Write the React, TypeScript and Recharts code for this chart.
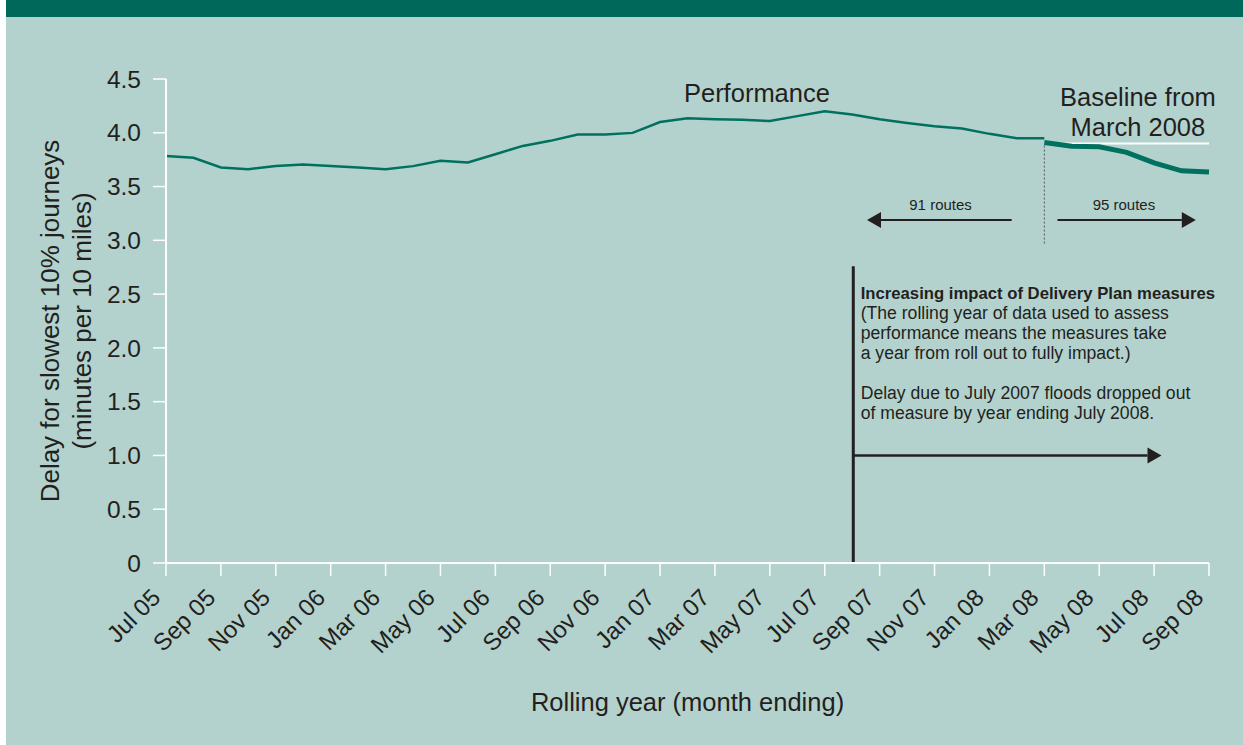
import React from "react";
import { LineChart, Line, XAxis, YAxis, ReferenceLine, ReferenceDot } from "recharts";

const months = [
  "Jul 05", "Aug 05", "Sep 05", "Oct 05", "Nov 05", "Dec 05",
  "Jan 06", "Feb 06", "Mar 06", "Apr 06", "May 06", "Jun 06", "Jul 06", "Aug 06", "Sep 06", "Oct 06", "Nov 06", "Dec 06",
  "Jan 07", "Feb 07", "Mar 07", "Apr 07", "May 07", "Jun 07", "Jul 07", "Aug 07", "Sep 07", "Oct 07", "Nov 07", "Dec 07",
  "Jan 08", "Feb 08", "Mar 08", "Apr 08", "May 08", "Jun 08", "Jul 08", "Aug 08", "Sep 08",
];

// Jul 05 .. Mar 08
const performance = [
  3.785, 3.767, 3.677, 3.662, 3.69, 3.705, 3.692, 3.677, 3.662, 3.69, 3.739, 3.724,
  3.8, 3.878, 3.925, 3.984, 3.984, 3.999, 4.1, 4.135, 4.125, 4.12, 4.11, 4.155,
  4.2, 4.17, 4.125, 4.09, 4.06, 4.04, 3.99, 3.95, 3.95,
];

// Mar 08 .. Sep 08 (95 routes)
const baselineMonths = ["Mar 08", "Apr 08", "May 08", "Jun 08", "Jul 08", "Aug 08", "Sep 08"];
const baselineValues = [3.91, 3.875, 3.87, 3.818, 3.72, 3.646, 3.636];
const baselineLevel = 3.9;

const yTicks = [0, 0.5, 1, 1.5, 2, 2.5, 3, 3.5, 4, 4.5];
const xTicks = months.map((_, i) => i).filter((i) => i % 2 === 0);

const noteLines = [
  "(The rolling year of data used to assess",
  "performance means the measures take",
  "a year from roll out to fully impact.)",
  "",
  "Delay due to July 2007 floods dropped out",
  "of measure by year ending July 2008.",
];

const data = months.map((m, i) => {
  const b = baselineMonths.indexOf(m);
  return {
    i,
    month: m,
    perf: i < performance.length ? performance[i] : null,
    base: b >= 0 ? baselineValues[b] : null,
    level: b >= 0 ? baselineLevel : null,
  };
});

const BG = "#b3d2cd";
const TEAL = "#00705f";
const INK = "#231f20";
const FONT = "'Liberation Sans', Arial, Helvetica, sans-serif";

const XTick = (props: any) => {
  const { x, y, payload } = props;
  const ax = x - 4;
  const ay = y + 21;
  return (
    <text x={ax} y={ay} textAnchor="end" fontSize={24} fill={INK} fontFamily={FONT} transform={`rotate(-45, ${ax}, ${ay})`}>
      {months[payload.value]}
    </text>
  );
};

const arrow = (width: number, headLen: number, headHalf: number) => (p: any) => {
  const { x1, y1, x2, y2 } = p;
  const dx = x2 - x1;
  const dy = y2 - y1;
  const len = Math.sqrt(dx * dx + dy * dy) || 1;
  const ux = dx / len;
  const uy = dy / len;
  const bx = x2 - ux * headLen;
  const by = y2 - uy * headLen;
  const px = -uy * headHalf;
  const py = ux * headHalf;
  return (
    <g>
      <line x1={x1} y1={y1} x2={bx} y2={by} stroke={INK} strokeWidth={width} />
      <polygon points={`${x2},${y2} ${bx + px},${by + py} ${bx - px},${by - py}`} fill={INK} />
    </g>
  );
};

const textAt = (txt: string, size: number, weight = "normal") => (p: any) => (
  <text x={p.cx} y={p.cy} textAnchor="middle" dominantBaseline="central" fontSize={size} fontWeight={weight} fill={INK} fontFamily={FONT}>
    {txt}
  </text>
);

const noteBlock = (p: any) => (
  <g fontFamily={FONT} fill={INK} fontSize={17.6}>
    <text x={p.cx} y={p.cy} dominantBaseline="central" fontWeight="bold" fontSize={16.7}>
      Increasing impact of Delivery Plan measures
    </text>
    {noteLines.map((l, k) => (
      <text key={k} x={p.cx} y={p.cy + 20 * (k + 1)} dominantBaseline="central">
        {l}
      </text>
    ))}
  </g>
);

export default function App() {
  return (
    <div style={{ position: "absolute", left: 0, top: 0, width: 1243, height: 745, background: "#fff" }}>
      <div style={{ position: "absolute", left: 6, top: 0, width: 1237, height: 745, background: BG }}>
        <div style={{ height: 17, background: "#00685b" }} />
        <div style={{ position: "absolute", left: 0, top: 0 }}>
          <LineChart width={1237} height={745} data={data} margin={{ top: 79, right: 34, bottom: 0, left: 0 }}>
            <XAxis
              dataKey="i"
              type="number"
              domain={[0, 38]}
              ticks={xTicks}
              interval={0}
              height={182}
              stroke="#fff"
              strokeWidth={2}
              tickSize={13}
              tickLine={{ stroke: "#fff", strokeWidth: 1.5 }}
              tick={<XTick />}
              label={{
                content: (lp: any) => {
                  const vb = lp.viewBox || { x: 160, y: 563, width: 1043 };
                  return (
                    <text x={vb.x + vb.width / 2} y={vb.y + 139} textAnchor="middle" dominantBaseline="central" fontSize={25.5} fill={INK} fontFamily={FONT}>
                      Rolling year (month ending)
                    </text>
                  );
                },
              }}
            />
            <YAxis
              type="number"
              domain={[0, 4.5]}
              ticks={yTicks}
              interval={0}
              width={160}
              stroke="#fff"
              strokeWidth={2}
              tickSize={13}
              tickMargin={12}
              tickLine={{ stroke: "#fff", strokeWidth: 1.5 }}
              tick={{ fontSize: 24.5, fill: INK, fontFamily: FONT }}
              tickFormatter={(v: number) => (v === 0 ? "0" : v.toFixed(1))}
              label={{
                content: (lp: any) => {
                  const vb = lp.viewBox || { x: 0, y: 79, height: 484 };
                  const cy = vb.y + vb.height / 2;
                  return (
                    <g fontSize={26} fill={INK} fontFamily={FONT}>
                      <text x={44} y={cy} textAnchor="middle" dominantBaseline="central" transform={`rotate(-90, 44, ${cy})`}>
                        Delay for slowest 10% journeys
                      </text>
                      <text x={76} y={cy} textAnchor="middle" dominantBaseline="central" transform={`rotate(-90, 76, ${cy})`}>
                        (minutes per 10 miles)
                      </text>
                    </g>
                  );
                },
              }}
            />

            {/* route-count dividers and arrows */}
            <ReferenceLine segment={[{ x: 32, y: 2.97 }, { x: 32, y: 3.9 }]} stroke="#555" strokeWidth={1} strokeDasharray="2 2" />
            <ReferenceLine segment={[{ x: 30.81, y: 3.19 }, { x: 25.54, y: 3.19 }]} shape={arrow(2, 14, 8)} />
            <ReferenceLine segment={[{ x: 32.48, y: 3.19 }, { x: 37.52, y: 3.19 }]} shape={arrow(2, 14, 8)} />
            <ReferenceDot x={28.22} y={3.336} r={0} shape={textAt("91 routes", 15)} />
            <ReferenceDot x={34.9} y={3.336} r={0} shape={textAt("95 routes", 15)} />

            {/* delivery plan impact */}
            <ReferenceLine segment={[{ x: 25.04, y: 0 }, { x: 25.04, y: 2.76 }]} stroke={INK} strokeWidth={3} />
            <ReferenceLine segment={[{ x: 25.04, y: 1.0 }, { x: 36.27, y: 1.0 }]} shape={arrow(2.5, 14, 8)} />
            <ReferenceDot x={25.31} y={2.507} r={0} shape={noteBlock} />

            <ReferenceDot x={21.53} y={4.368} r={0} shape={textAt("Performance", 25.5)} />
            <ReferenceDot x={35.41} y={4.33} r={0} shape={textAt("Baseline from", 25.5)} />
            <ReferenceDot x={35.41} y={4.05} r={0} shape={textAt("March 2008", 25.5)} />

            <Line dataKey="level" stroke="#fff" strokeWidth={2} dot={false} isAnimationActive={false} />
            <Line dataKey="perf" stroke={TEAL} strokeWidth={2.5} dot={false} isAnimationActive={false} />
            <Line dataKey="base" stroke={TEAL} strokeWidth={5} dot={false} isAnimationActive={false} />
          </LineChart>
        </div>
      </div>
    </div>
  );
}
